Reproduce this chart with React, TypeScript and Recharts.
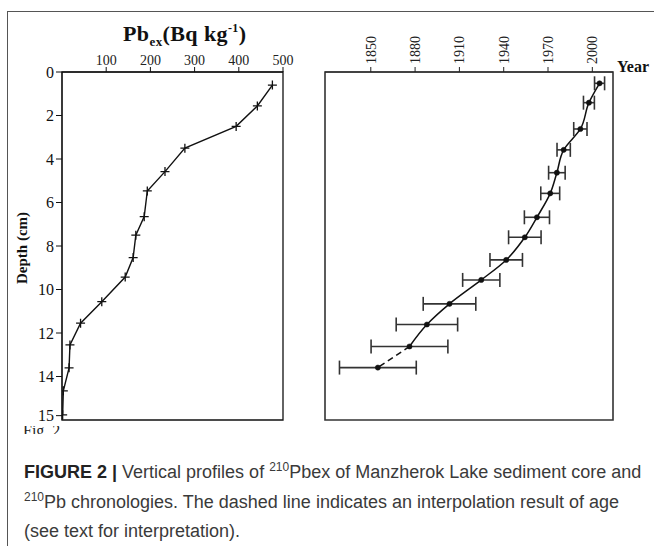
import React from "react";
import { LineChart, Line, XAxis, YAxis, ErrorBar, ReferenceArea } from "recharts";

const serif = '"Liberation Serif", "Times New Roman", serif';
const sans = '"Liberation Sans Narrow", "Liberation Sans", Arial, sans-serif';

// left panel: excess 210Pb activity by depth
const pbDepth = [0.6, 1.56, 2.5, 3.5, 4.58, 5.47, 6.65, 7.5, 8.53, 9.43, 10.56, 11.55, 12.55, 13.6, 14.66, 15.76];
const pbActivity = [476, 442, 394, 278, 233, 193, 186, 167, 161, 143, 90, 42, 18, 16, 3, 1.5];
const pbTicks = [100, 200, 300, 400, 500];
const depthTicks = [0, 2, 4, 6, 8, 10, 12, 14, 15.8];
const depthTickLabels = ["0", "2", "4", "6", "8", "10", "12", "14", "15"];

// right panel: 210Pb chronology
const ageDepth = [0.52, 1.41, 2.62, 3.58, 4.63, 5.58, 6.68, 7.6, 8.64, 9.56, 10.66, 11.61, 12.62, 13.59];
const ageYear = [2004.9, 1997.7, 1991.9, 1980.6, 1976, 1971.5, 1962.5, 1954.3, 1941.7, 1924.8, 1903.3, 1888, 1876.2, 1854.8];
const ageError = [3.4, 3.7, 4.5, 4.5, 5.6, 6.4, 8.5, 11, 11, 12.6, 17.8, 20.8, 26, 26];
const yearTicks = [1850, 1880, 1910, 1940, 1970, 2000];

const pbRows = pbDepth.map((depth, i) => ({ depth, pb: pbActivity[i] }));
const lastSolid = ageYear.length - 2;
const ageRows = ageDepth.map((depth, i) => ({
  depth,
  year: ageYear[i],
  err: ageError[i],
  solid: i <= lastSolid ? ageYear[i] : null,
  dashed: i >= lastSolid ? ageYear[i] : null,
}));

function Cross(props: any) {
  const { cx, cy } = props;
  if (cx == null || cy == null) return null;
  const s = 4.5;
  return (
    <path
      d={`M${cx - s},${cy}H${cx + s}M${cx},${cy - s}V${cy + s}`}
      stroke="#111"
      strokeWidth={1.3}
      fill="none"
    />
  );
}

function YearTick(props: any) {
  const { x, y, payload } = props;
  return (
    <text
      x={x}
      y={y}
      transform={`rotate(-90 ${x} ${y})`}
      textAnchor="start"
      dy="0.35em"
      fontSize={14}
      fontFamily={serif}
      fill="#222"
    >
      {payload.value}
    </text>
  );
}

const depthLabel = (props: any) => {
  const vb = props.viewBox;
  const x = vb.x + 10;
  const y = vb.y + vb.height / 2 + 2;
  return (
    <text
      x={x}
      y={y}
      transform={`rotate(-90 ${x} ${y})`}
      textAnchor="middle"
      dy="0.35em"
      fontSize={15}
      fontWeight="bold"
      fontFamily={serif}
      fill="#111"
    >
      Depth (cm)
    </text>
  );
};

export default function App() {
  return (
    <div style={{ position: "absolute", left: 0, top: 0, width: 654, height: 546, background: "#fff", overflow: "hidden" }}>
      <div
        style={{
          position: "absolute",
          left: 7,
          top: 11,
          width: 700,
          height: 600,
          borderLeft: "1.5px solid #555",
          borderTop: "1.5px solid #555",
        }}
      />

      <div
        style={{
          position: "absolute",
          left: 123,
          top: 21,
          fontFamily: serif,
          fontWeight: "bold",
          fontSize: 22,
          letterSpacing: 0.4,
          color: "#111",
          whiteSpace: "nowrap",
          lineHeight: "26px",
        }}
      >
        Pb<span style={{ fontSize: 13, position: "relative", top: 5 }}>ex</span>(Bq kg
        <span style={{ fontSize: 12, position: "relative", top: -9 }}>-1</span>)
      </div>

      <div style={{ position: "absolute", left: 0, top: 0 }}>
        <LineChart
          width={300}
          height={440}
          data={pbRows}
          layout="vertical"
          margin={{ top: 42, right: 17, bottom: 20, left: 12 }}
        >
          <XAxis
            type="number"
            dataKey="pb"
            orientation="top"
            height={30}
            domain={[0, 500]}
            ticks={pbTicks}
            allowDataOverflow
            tickSize={5}
            tickMargin={2}
            stroke="#111"
            tick={{ fontSize: 14, fontFamily: serif, fill: "#222" }}
          />
          <YAxis
            type="number"
            dataKey="depth"
            width={50}
            domain={[0, 16]}
            ticks={depthTicks}
            allowDataOverflow
            tickSize={6}
            tickMargin={2}
            stroke="#111"
            tickFormatter={(v: number) => depthTickLabels[depthTicks.indexOf(v)] ?? String(v)}
            tick={{ fontSize: 16, fontFamily: serif, fill: "#111" }}
            label={{ content: depthLabel }}
          />
          <ReferenceArea x1={0} x2={500} y1={0} y2={16} fill="none" stroke="#111" strokeWidth={1.3} />
          <Line
            dataKey="pb"
            type="linear"
            stroke="#111"
            strokeWidth={1.4}
            dot={Cross}
            activeDot={false}
            isAnimationActive={false}
          />
        </LineChart>
      </div>

      <div style={{ position: "absolute", left: 300, top: 0 }}>
        <LineChart
          width={354}
          height={440}
          data={ageRows}
          layout="vertical"
          margin={{ top: 32, right: 41, bottom: 20, left: 25 }}
        >
          <XAxis
            type="number"
            dataKey="year"
            orientation="top"
            height={40}
            domain={[1819, 2014]}
            ticks={yearTicks}
            allowDataOverflow
            tickSize={5}
            tickMargin={3}
            stroke="#222"
            tick={<YearTick />}
            label={{
              value: "Year",
              position: "right",
              offset: 4,
              dy: 14,
              style: { fontSize: 16, fontWeight: "bold", fontFamily: serif, fill: "#111" },
            }}
          />
          <YAxis type="number" dataKey="depth" hide domain={[0, 16]} allowDataOverflow />
          <ReferenceArea x1={1819} x2={2014} y1={0} y2={16} fill="none" stroke="#333" strokeWidth={1.6} />
          <Line
            dataKey="solid"
            type="monotone"
            stroke="#111"
            strokeWidth={1.5}
            dot={false}
            activeDot={false}
            isAnimationActive={false}
          />
          <Line
            dataKey="dashed"
            type="linear"
            stroke="#111"
            strokeWidth={1.5}
            strokeDasharray="6 4"
            dot={false}
            activeDot={false}
            isAnimationActive={false}
          />
          <Line
            dataKey="year"
            type="linear"
            stroke="none"
            dot={{ r: 2.6, fill: "#111", stroke: "#111", strokeWidth: 0.5 }}
            activeDot={false}
            isAnimationActive={false}
          >
            <ErrorBar dataKey="err" direction="x" width={7} stroke="#333" strokeWidth={1.6} />
          </Line>
        </LineChart>
      </div>

      <div style={{ position: "absolute", left: 23, top: 426, height: 8, overflow: "hidden" }}>
        <div style={{ marginTop: -4, fontFamily: serif, fontSize: 16, color: "#222", whiteSpace: "nowrap" }}>Fig. 2</div>
      </div>

      <div
        style={{
          position: "absolute",
          left: 24,
          top: 458,
          width: 630,
          fontFamily: sans,
          fontSize: 18,
          lineHeight: "29.5px",
          color: "#3a3a3a",
        }}
      >
        <span style={{ fontWeight: "bold", color: "#222" }}>FIGURE 2 | </span>
        Vertical profiles of <sup style={{ fontSize: 12, lineHeight: 0 }}>210</sup>Pbex of Manzherok Lake sediment core and
        <br />
        <sup style={{ fontSize: 12, lineHeight: 0 }}>210</sup>Pb chronologies. The dashed line indicates an interpolation result of age
        <br />
        (see text for interpretation).
      </div>
    </div>
  );
}
